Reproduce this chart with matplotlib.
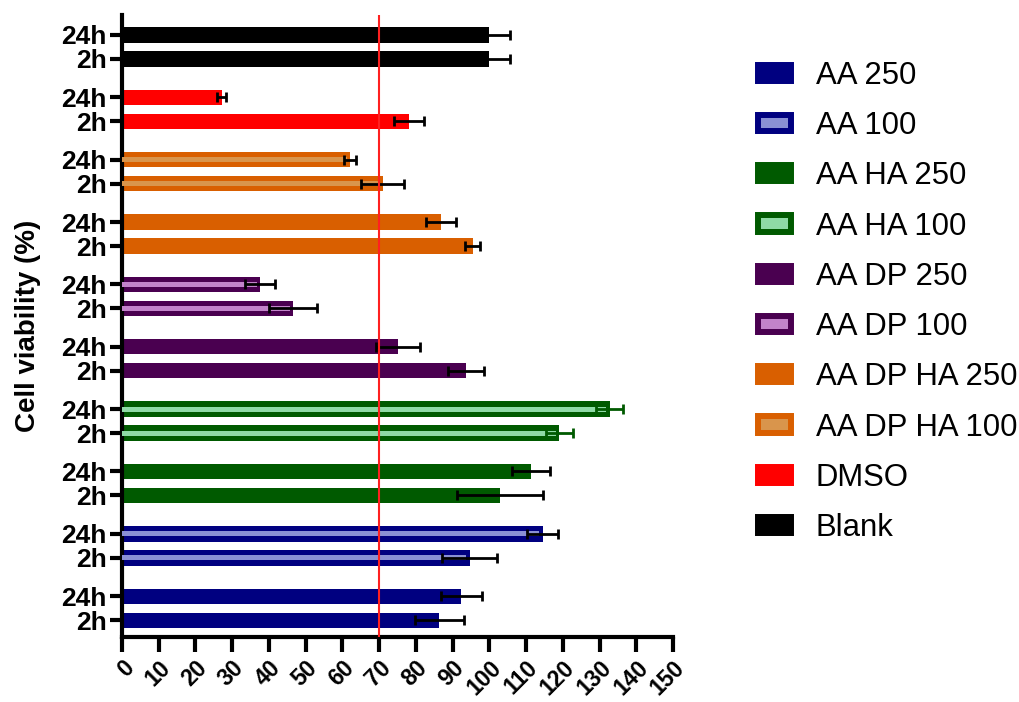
import matplotlib
matplotlib.use("Agg")
import matplotlib.pyplot as plt
from matplotlib.patches import Patch
import numpy as np

plt.rcParams['font.family'] = ['Liberation Sans', 'DejaVu Sans']

# groups from bottom to top (legend lists them top to bottom in this order)
groups = ["AA 250", "AA 100", "AA HA 250", "AA HA 100", "AA DP 250",
          "AA DP 100", "AA DP HA 250", "AA DP HA 100", "DMSO", "Blank"]
time_labels = ["2h", "24h"]
mean_2h = [86.4, 94.6, 102.9, 119.0, 93.6, 46.6, 95.4, 70.9, 78.1, 100.0]
err_2h = [6.6, 7.4, 11.7, 3.7, 4.8, 6.6, 2.1, 5.8, 4.1, 5.6]
mean_24h = [92.3, 114.5, 111.3, 132.7, 75.0, 37.6, 86.8, 62.1, 27.1, 100.0]
err_24h = [5.6, 4.2, 5.1, 3.6, 6.0, 4.0, 4.0, 1.6, 1.3, 5.6]
threshold = 70

dark = ["#000080", "#000080", "#005a00", "#005a00", "#4a0050",
        "#4a0050", "#d95f00", "#d95f00", "#ff0000", "#000000"]
light = [None, "#8a90d4", None, "#8fdaa6", None,
         "#c283ca", None, "#d9954c", None, None]
err_col = ["black", "black", "black", "#005a00", "black",
           "black", "black", "black", "black", "black"]

fig = plt.figure(figsize=(10.2, 7.02), dpi=100)
ax = fig.add_axes([0.1196, 0.0926, 0.5404, 0.886])

step = 2.6
bar_h = 0.64
for g in range(len(groups)):
    for k, (m, e) in enumerate([(mean_2h[g], err_2h[g]), (mean_24h[g], err_24h[g])]):
        y = g * step + k
        ax.barh(y, m, height=bar_h, color=dark[g], zorder=2)
        if light[g]:
            ax.barh(y, m - 0.9, height=0.21, color=light[g], zorder=3)
        ax.errorbar(m, y, xerr=e, fmt="none", ecolor=err_col[g],
                    elinewidth=2, capsize=3.5, capthick=2, zorder=4)

ax.axvline(threshold, color="#ff2020", lw=1.5, zorder=5)

yt = [g * step + k for g in range(len(groups)) for k in range(2)]
ax.set_yticks(yt)
ax.set_yticklabels(time_labels * len(groups), fontsize=19, fontweight="bold")
ax.set_ylim(-0.7, (len(groups) - 1) * step + 1 + 0.83)

ax.set_xlim(0, 150)
ax.set_xticks(np.arange(0, 151, 10))
ax.set_xticklabels([str(v) for v in range(0, 151, 10)], fontsize=16.5,
                   fontweight="bold", rotation=45, ha="right",
                   rotation_mode="anchor")
ax.set_ylabel("Cell viability (%)", fontsize=20, fontweight="bold")
ax.yaxis.set_label_coords(-0.147, 0.5)

for s in ["top", "right"]:
    ax.spines[s].set_visible(False)
for s in ["left", "bottom"]:
    ax.spines[s].set_linewidth(3)
ax.tick_params(axis="x", length=11, width=3, pad=3)
ax.tick_params(axis="y", length=9, width=3, pad=2)

handles = []
for g in range(len(groups)):
    if light[g]:
        handles.append(Patch(facecolor=light[g], edgecolor=dark[g], lw=4.3))
    else:
        handles.append(Patch(facecolor=dark[g], edgecolor=dark[g], lw=4.3))
fig.legend(handles, groups, loc="upper left", bbox_to_anchor=(0.716, 0.953),
           frameon=False, fontsize=22.4, handlelength=1.06, handleheight=0.42,
           handletextpad=0.78, labelspacing=0.65)

fig.savefig("out.png", dpi=100)
